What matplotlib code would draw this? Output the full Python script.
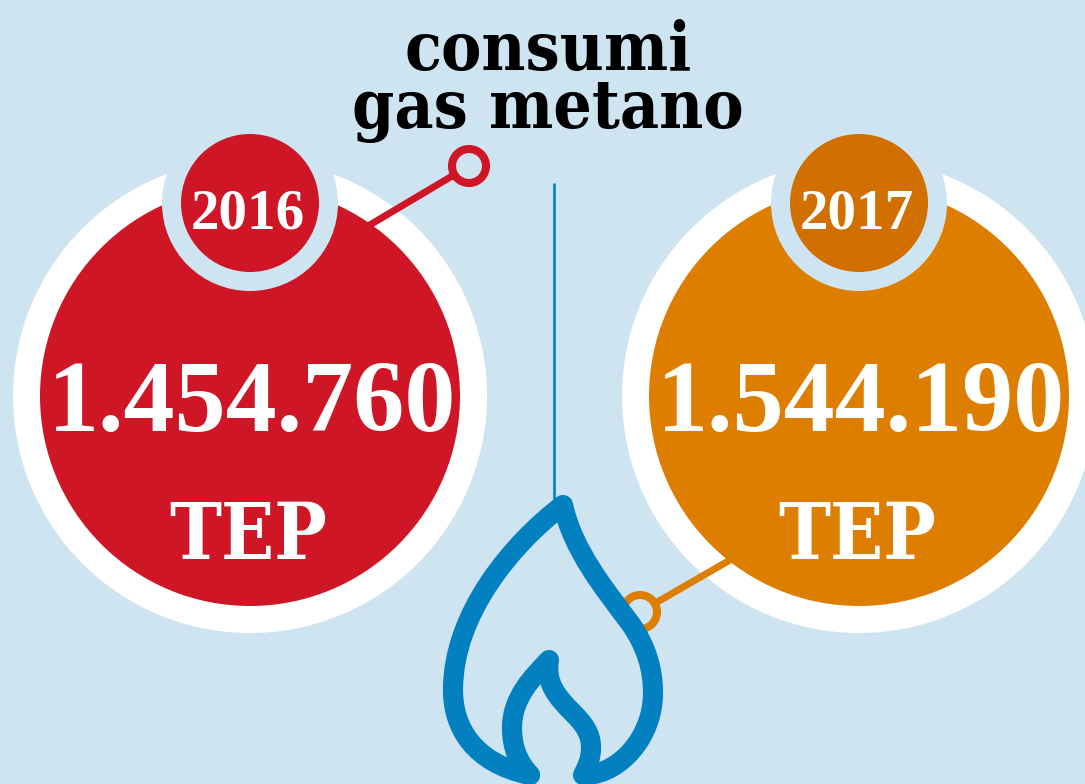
#!/usr/bin/env python
import matplotlib
matplotlib.use('Agg')
import matplotlib.pyplot as plt
from matplotlib.patches import Circle, PathPatch
from matplotlib.path import Path

YEARS = ['2016', '2017']
VALUES = ['1.454.760', '1.544.190']
UNITS = ['TEP', 'TEP']
TITLE_LINES = ['consumi', 'gas metano']

BG = '#cfe4f1'
MAIN = ['#ce1626', '#de7e00']
BADGE = ['#ce1626', '#d17000']
BLUE = '#0280c0'
SERIF = 'DejaVu Serif'
NARROW = 'Liberation Serif'


def flame_path():
    # outer flame, traced by eye
    verts = [(530, 775), (473, 763), (453, 727), (453, 690),
             (453, 613), (513, 543), (563, 505),
             (573, 550), (603, 587), (630, 623),
             (647, 647), (653, 670), (653, 693),
             (653, 737), (620, 773), (587, 775)]
    codes = [Path.MOVETO] + [Path.CURVE4] * 15
    return Path(verts, codes)


def inner_path():
    verts = [(530, 775), (518, 762), (512, 747), (512, 728),
             (512, 697), (533, 677), (549, 660),
             (545, 683), (557, 697), (573, 713),
             (583, 723), (591, 733), (591, 747),
             (591, 760), (587, 767), (583, 775)]
    codes = [Path.MOVETO] + [Path.CURVE4] * 15
    return Path(verts, codes)


def draw_side(ax, cx, i, pin_start, pin_end):
    ax.add_patch(Circle((cx, 396), 237, fc='white', ec='none', zorder=1))
    ax.add_patch(Circle((cx, 396), 210, fc=MAIN[i], ec='none', zorder=2))
    ax.add_patch(Circle((cx, 203), 88, fc=BG, ec='none', zorder=3))
    ax.add_patch(Circle((cx, 203), 69, fc=BADGE[i], ec='none', zorder=4))
    ax.plot([pin_start[0], pin_end[0]], [pin_start[1], pin_end[1]],
            color=MAIN[i], lw=5, zorder=5, solid_capstyle='butt')
    ax.add_patch(Circle(pin_end, 17, fc=BG, ec=MAIN[i], lw=5.8, zorder=6))
    ax.text(cx - 2, 228, YEARS[i], color='white', ha='center', va='baseline',
            fontsize=41, family=NARROW, fontweight='bold', zorder=7)
    ax.text(cx + 2, 431, VALUES[i], color='white', ha='center', va='baseline',
            fontsize=73.5, family=NARROW, fontweight='bold', zorder=7)
    ax.text(cx - 2, 559, UNITS[i], color='white', ha='center', va='baseline',
            fontsize=56, family=SERIF, fontweight='bold', stretch='condensed',
            zorder=7)


def main():
    fig = plt.figure(figsize=(10.85, 7.84), dpi=100, facecolor=BG)
    ax = fig.add_axes([0, 0, 1, 1])
    ax.set_xlim(0, 1085)
    ax.set_ylim(784, 0)
    ax.axis('off')

    draw_side(ax, 250, 0, (368, 226), (469, 166))
    draw_side(ax, 859, 1, (730, 560), (640, 612))

    ax.plot([554, 554], [183, 505], color=BLUE, lw=1.9, zorder=1,
            solid_capstyle='butt')
    ax.add_patch(PathPatch(flame_path(), fc='none', ec=BLUE, lw=14.5,
                           capstyle='round', joinstyle='round', zorder=8))
    ax.add_patch(PathPatch(inner_path(), fc='none', ec=BLUE, lw=14.5,
                           capstyle='round', joinstyle='round', zorder=8))

    for line, y in zip(TITLE_LINES, (70, 128)):
        ax.text(548, y, line, color='black', ha='center', va='baseline',
                fontsize=48.5, family=SERIF, fontweight='bold',
                stretch='condensed', zorder=7)

    fig.savefig('out.png', dpi=100, facecolor=BG)


if __name__ == '__main__':
    main()
